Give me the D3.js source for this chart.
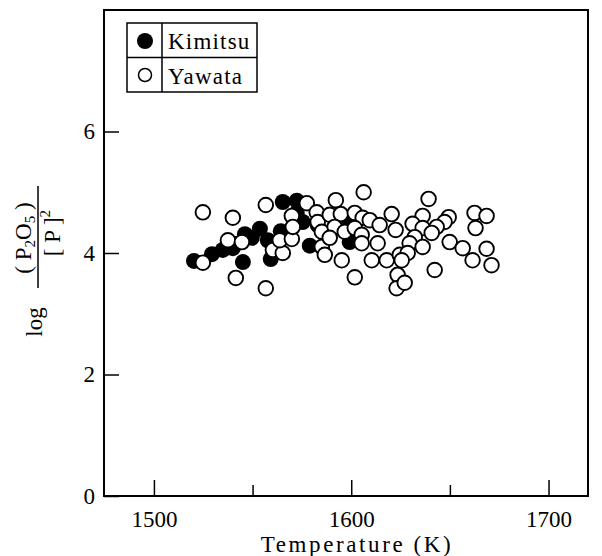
<!DOCTYPE html>
<html><head><meta charset="utf-8">
<script src="https://cdn.jsdelivr.net/npm/d3@7"></script>
<style>body{margin:0;background:#fff}svg{display:block}text{font-family:"Liberation Serif","DejaVu Serif",serif;fill:#000}</style>
</head><body>
<script>
const kimitsuT = [1520.3,1529.4,1534.9,1540.0,1541.5,1545.1,1546.1,1549.6,1553.7,1557.7,1559.2,1564.3,1565.3,1572.4,1572.4,1575.4,1579.0,1583.0,1598.2,1599.2];
const kimitsuV = [3.87,3.98,4.05,4.08,4.15,3.85,4.31,4.25,4.40,4.21,3.90,4.36,4.84,4.86,4.66,4.51,4.12,4.46,4.58,4.18];
const yawataT = [1524.8,1524.8,1540.0,1537.5,1544.6,1541.5,1556.7,1556.7,1560.3,1565.3,1563.8,1569.9,1569.9,1570.4,1577.5,1582.5,1583.0,1585.1,1585.1,1586.6,1592.2,1589.1,1594.7,1601.8,1605.8,1609.4,1620.5,1614.4,1622.5,1591.6,1596.7,1601.8,1589.1,1605.3,1605.3,1613.4,1595.2,1610.4,1618.0,1624.6,1601.8,1623.5,1623.0,1606.3,1639.2,1636.2,1631.1,1649.4,1647.3,1643.3,1636.2,1632.2,1640.8,1629.6,1636.2,1649.9,1656.5,1628.6,1625.6,1642.3,1627.1,1662.5,1668.6,1663.0,1661.5,1668.6,1671.1];
const yawataV = [4.67,3.84,4.58,4.21,4.18,3.59,4.79,3.42,4.05,4.00,4.21,4.23,4.61,4.43,4.82,4.67,4.51,4.35,4.10,3.97,4.87,4.63,4.64,4.66,4.58,4.54,4.64,4.46,4.38,4.43,4.35,4.41,4.25,4.30,4.16,4.16,3.88,3.88,3.88,3.97,3.60,3.64,3.42,5.00,4.89,4.61,4.48,4.59,4.51,4.43,4.41,4.26,4.33,4.16,4.10,4.18,4.08,4.00,3.88,3.72,3.51,4.66,4.61,4.41,3.88,4.07,3.80];
const xMajor = [1500,1600,1700];
const xMinor = [1550,1650];
const yTicks = [0,2,4,6];
const seriesNames = ["Kimitsu","Yawata"];

const W=602,H=556;
const svg=d3.select("body").append("svg").attr("width",W).attr("height",H);
const L=104,R=588,T=10,B=496;
const x=d3.scaleLinear().domain([1474.7,1720]).range([L,R]);
const y=d3.scaleLinear().domain([0,8]).range([B,T]);

svg.append("rect").attr("x",L).attr("y",T).attr("width",R-L).attr("height",B-T)
  .attr("fill","none").attr("stroke","#000").attr("stroke-width",2);

const gx=svg.append("g").attr("transform",`translate(0,${B})`)
  .call(d3.axisBottom(x).tickValues(xMajor).tickSize(-16).tickPadding(31).tickFormat(d3.format("d")));
gx.select(".domain").remove();
gx.selectAll("line").attr("stroke-width",1.5);
gx.selectAll("text").attr("font-size",23).attr("dy","0");
svg.append("g").attr("transform",`translate(0,${B})`)
  .call(d3.axisBottom(x).tickValues(xMinor).tickSize(-11).tickFormat(""))
  .call(g=>{g.select(".domain").remove();g.selectAll("line").attr("stroke-width",1.5);});

const gy=svg.append("g").attr("transform",`translate(${L},0)`)
  .call(d3.axisLeft(y).tickValues(yTicks).tickSize(-15).tickPadding(9).tickFormat(d3.format("d")));
gy.select(".domain").remove();
gy.selectAll("line").attr("stroke-width",1.5);
gy.selectAll("text").attr("font-size",23);

svg.append("text").attr("x",357).attr("y",552).attr("text-anchor","middle")
  .attr("font-size",23).attr("letter-spacing","2.6px").text("Temperature (K)");

const yl=svg.append("g").attr("transform","translate(38,240) rotate(-90)");
yl.append("text").attr("x",-82).attr("y",4).attr("text-anchor","middle").attr("font-size",23).text("log");
yl.append("line").attr("x1",-48).attr("x2",54).attr("y1",0).attr("y2",0).attr("stroke","#000").attr("stroke-width",1.5);
const num=yl.append("text").attr("x",2).attr("y",-7).attr("text-anchor","middle").attr("font-size",23);
num.append("tspan").text("(  P");
num.append("tspan").attr("font-size",15).attr("dy",4).text("2");
num.append("tspan").attr("dy",-4).text("O");
num.append("tspan").attr("font-size",15).attr("dy",4).text("5");
num.append("tspan").attr("dy",-4).text("  )");
const den=yl.append("text").attr("x",7).attr("y",22).attr("text-anchor","middle").attr("font-size",23);
den.append("tspan").text("[ P ]");
den.append("tspan").attr("font-size",15).attr("dy",-10).text("2");

const kData=kimitsuT.map((t,i)=>({t,v:kimitsuV[i]}));
const yData=yawataT.map((t,i)=>({t,v:yawataV[i]}));
svg.append("g").selectAll("circle").data(kData).join("circle")
  .attr("cx",d=>x(d.t)).attr("cy",d=>y(d.v)).attr("r",8).attr("fill","#000");
svg.append("g").selectAll("circle").data(yData).join("circle")
  .attr("cx",d=>x(d.t)).attr("cy",d=>y(d.v)).attr("r",7.3).attr("fill","#fff")
  .attr("stroke","#000").attr("stroke-width",1.9);

const lg=svg.append("g");
lg.append("rect").attr("x",127).attr("y",23).attr("width",130).attr("height",69)
  .attr("fill","#fff").attr("stroke","#000").attr("stroke-width",1.5);
lg.append("line").attr("x1",162).attr("x2",162).attr("y1",23).attr("y2",92).attr("stroke","#000").attr("stroke-width",1.5);
lg.append("line").attr("x1",127).attr("x2",257).attr("y1",57.5).attr("y2",57.5).attr("stroke","#000").attr("stroke-width",1.5);
lg.append("circle").attr("cx",145).attr("cy",41).attr("r",8).attr("fill","#000");
lg.append("circle").attr("cx",145).attr("cy",75).attr("r",6.5).attr("fill","#fff").attr("stroke","#000").attr("stroke-width",1.5);
lg.append("text").attr("x",168).attr("y",49).attr("font-size",23).attr("letter-spacing","1.2px").text(seriesNames[0]);
lg.append("text").attr("x",168).attr("y",84).attr("font-size",23).attr("letter-spacing","1.2px").text(seriesNames[1]);
</script>
</body></html>
